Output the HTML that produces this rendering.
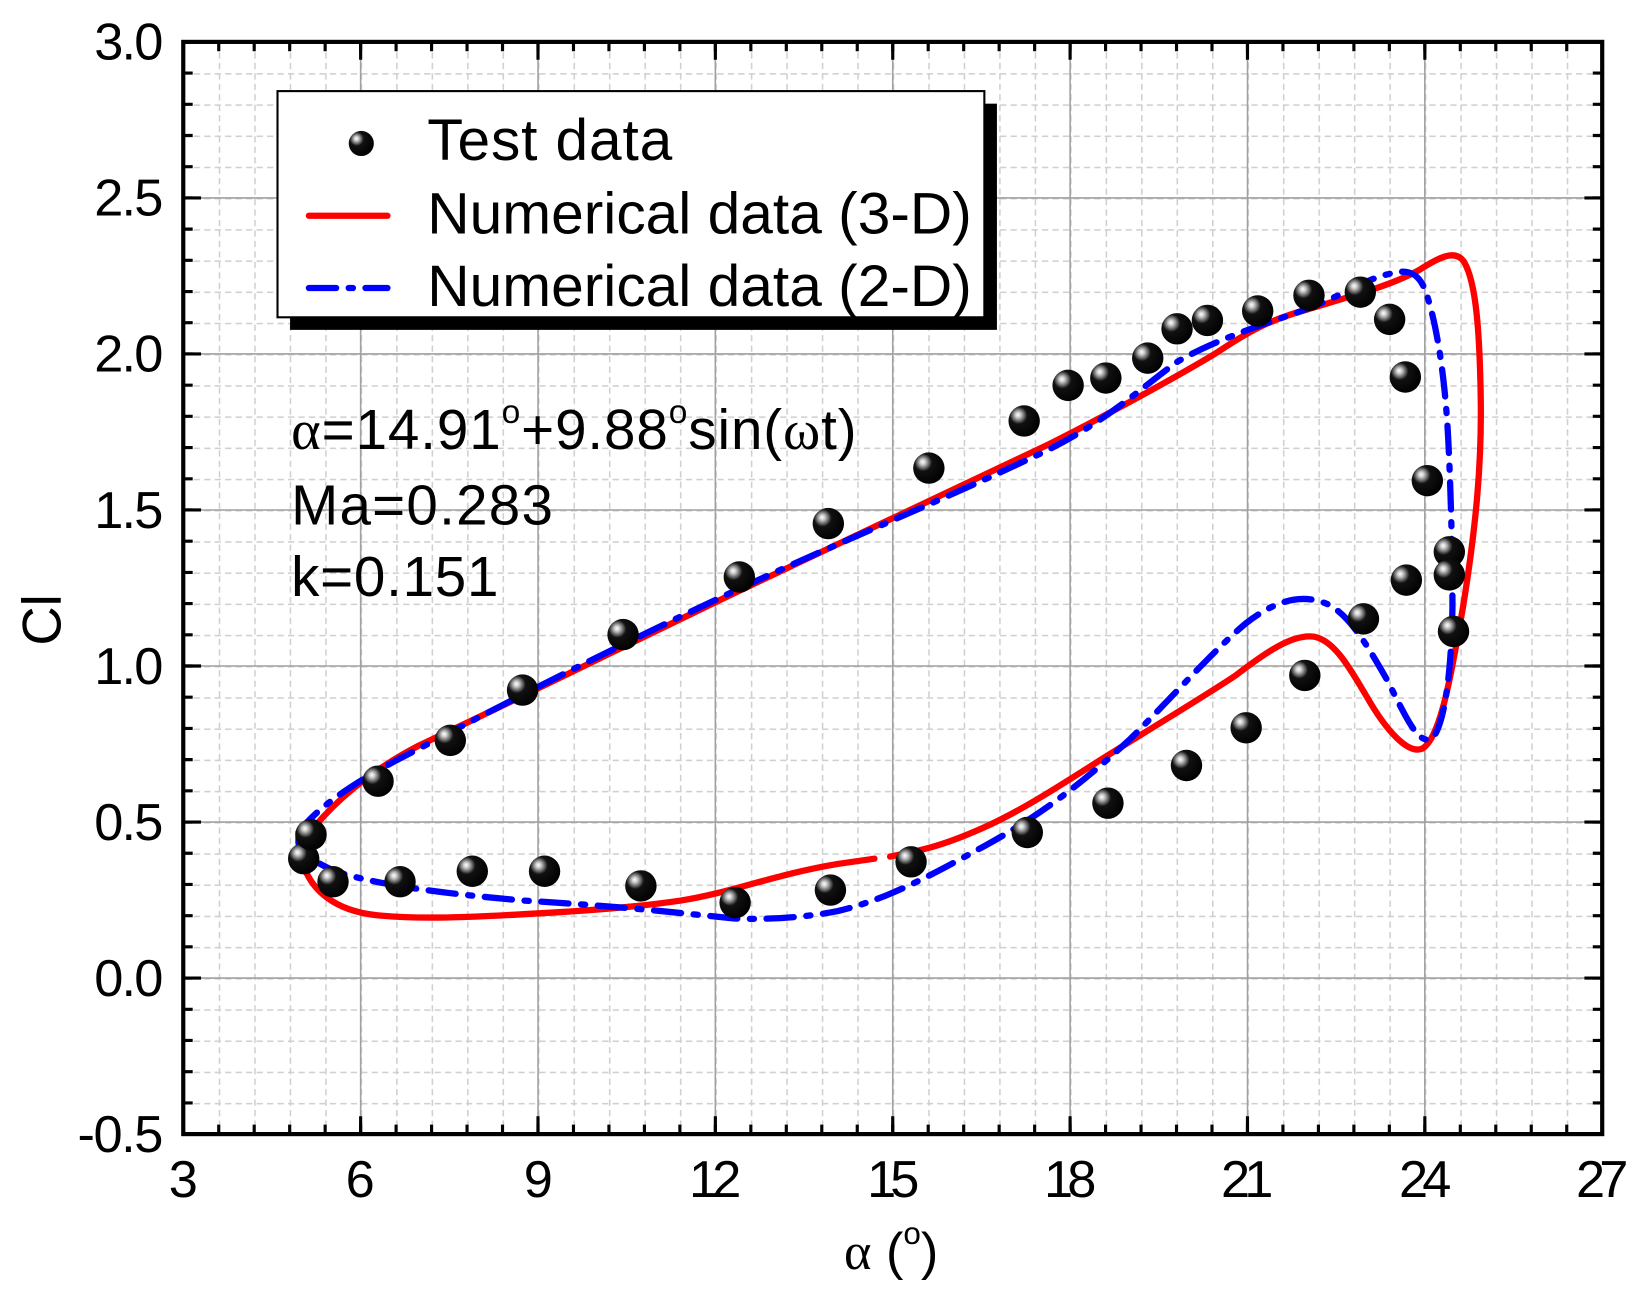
<!DOCTYPE html>
<html><head><meta charset="utf-8"><style>html,body{margin:0;padding:0;background:#fff}svg{display:block}</style></head>
<body>
<svg width="1642" height="1294" viewBox="0 0 1568 1235.7" preserveAspectRatio="none" xmlns="http://www.w3.org/2000/svg" font-family="Liberation Sans, sans-serif">
<defs>
<radialGradient id="b" cx="0.35" cy="0.35" r="0.7" fx="0.3" fy="0.3">
<stop offset="0" stop-color="#fff"/><stop offset="0.12" stop-color="#ccc"/><stop offset="0.25" stop-color="#777"/><stop offset="0.4" stop-color="#111"/><stop offset="1" stop-color="#000"/>
</radialGradient>
<pattern id="gx" patternUnits="userSpaceOnUse" x="175" y="40" width="33.875" height="10">
<line x1="0" y1="0" x2="0" y2="10" stroke="#d0d0d0" stroke-width="3" stroke-dasharray="6,4"/>
</pattern>
<pattern id="gy" patternUnits="userSpaceOnUse" x="175" y="40" width="10" height="29.8">
<line x1="0" y1="0" x2="10" y2="0" stroke="#d0d0d0" stroke-width="3" stroke-dasharray="6,4"/>
</pattern>
</defs>
<rect width="1568" height="1236" fill="#fff"/>
<rect x="175" y="40" width="1355" height="1043" fill="url(#gx)"/>
<rect x="175" y="40" width="1355" height="1043" fill="url(#gy)"/>
<g stroke="#a0a0a0" stroke-width="1.5">
<line x1="344.4" y1="40" x2="344.4" y2="1083"/><line x1="513.8" y1="40" x2="513.8" y2="1083"/><line x1="683.1" y1="40" x2="683.1" y2="1083"/><line x1="852.5" y1="40" x2="852.5" y2="1083"/><line x1="1021.9" y1="40" x2="1021.9" y2="1083"/><line x1="1191.3" y1="40" x2="1191.3" y2="1083"/><line x1="1360.6" y1="40" x2="1360.6" y2="1083"/>
<line x1="175" y1="189" x2="1530" y2="189"/><line x1="175" y1="338" x2="1530" y2="338"/><line x1="175" y1="487" x2="1530" y2="487"/><line x1="175" y1="636" x2="1530" y2="636"/><line x1="175" y1="785" x2="1530" y2="785"/><line x1="175" y1="934" x2="1530" y2="934"/>
</g>
<g stroke="#000" fill="none">
<line x1="173.5" y1="1078.5" x2="1532" y2="1078.5" stroke-width="9" stroke-dasharray="3,30.875"/>
<line x1="173.5" y1="1074.5" x2="1532" y2="1074.5" stroke-width="17" stroke-dasharray="3,166.375"/>
<line x1="173.5" y1="44.5" x2="1532" y2="44.5" stroke-width="9" stroke-dasharray="3,30.875"/>
<line x1="173.5" y1="48.5" x2="1532" y2="48.5" stroke-width="17" stroke-dasharray="3,166.375"/>
<line x1="179.5" y1="38.5" x2="179.5" y2="1085" stroke-width="9" stroke-dasharray="3,26.8"/>
<line x1="183.5" y1="38.5" x2="183.5" y2="1085" stroke-width="17" stroke-dasharray="3,146"/>
<line x1="1525.5" y1="38.5" x2="1525.5" y2="1085" stroke-width="9" stroke-dasharray="3,26.8"/>
<line x1="1521.5" y1="38.5" x2="1521.5" y2="1085" stroke-width="17" stroke-dasharray="3,146"/>
</g>
<rect x="175" y="40" width="1355" height="1043" fill="none" stroke="#000" stroke-width="4"/>
<g font-size="50" text-anchor="end">
<text x="156" y="57" textLength="66">3.0</text><text x="156" y="206" textLength="66">2.5</text><text x="156" y="355" textLength="66">2.0</text><text x="156" y="504" textLength="66">1.5</text><text x="156" y="653" textLength="66">1.0</text><text x="156" y="802" textLength="66">0.5</text><text x="156" y="951" textLength="66">0.0</text><text x="156" y="1100" textLength="82">-0.5</text>
</g>
<g font-size="50" text-anchor="middle">
<text x="175" y="1143">3</text><text x="344" y="1143">6</text><text x="514" y="1143">9</text><text x="683" y="1143" textLength="50">12</text><text x="853" y="1143" textLength="50">15</text><text x="1022" y="1143" textLength="50">18</text><text x="1191" y="1143" textLength="50">21</text><text x="1361" y="1143" textLength="50">24</text><text x="1530" y="1143" textLength="50">27</text>
</g>
<text x="851" y="1212" font-size="50" text-anchor="middle"><tspan font-family="Liberation Serif, serif">α</tspan> (<tspan font-size="30" dy="-24">o</tspan><tspan dy="24">)</tspan></text>
<text transform="translate(58,592) rotate(-90)" font-size="52" text-anchor="middle">Cl</text>

<path d="M835,820 L800,825 C740,835 700,852 650,860 C610,866 560,870 500,873 C450,876 400,878 360,874 C320,870 295,850 288,820 C288,812 290,805 300,790 C318,768 350,738 400,712 C500,665 600,615 700,567 C800,520 900,472 1000,425 C1050,400 1120,362 1160,338 C1190,318 1210,306 1250,295 C1290,283 1330,272 1355,258 C1375,245 1390,238 1398,250 C1410,270 1413,320 1414,380 C1415,440 1410,500 1397,580 C1385,650 1375,705 1358,715 C1345,720 1325,700 1305,665 C1290,640 1275,612 1255,608 C1235,605 1210,622 1180,645 C1150,665 1100,695 1060,720 C1020,745 980,772 940,790 C900,808 880,812 850,818" fill="none" stroke="#ff0000" stroke-width="6" stroke-linejoin="round" stroke-linecap="round"/>

<path d="M285,795 C300,775 330,750 400,715 C500,662 600,612 700,565 C800,518 900,478 1000,430 C1060,400 1090,370 1125,345 C1160,325 1200,312 1240,298 C1280,284 1300,268 1325,262 C1345,256 1355,260 1362,280 C1372,310 1380,360 1383,420 C1386,480 1387,540 1387,580 C1386,640 1380,690 1368,705 C1355,712 1345,690 1325,650 C1305,615 1290,590 1270,578 C1245,566 1220,572 1190,595 C1160,620 1120,665 1080,705 C1040,742 1000,775 940,808 C890,835 850,858 800,870 C760,878 720,878 700,877 C650,872 600,866 500,860 C420,853 360,845 320,832 C300,823 287,815 285,805 Z" fill="none" stroke="#0000ff" stroke-width="6" stroke-dasharray="26,12,4,12" stroke-linecap="round"/>

<g fill="url(#b)">
<circle cx="290" cy="820" r="15"/><circle cx="297" cy="797" r="15"/><circle cx="318" cy="842" r="15"/><circle cx="361" cy="746" r="15"/><circle cx="382" cy="842" r="15"/><circle cx="430" cy="707" r="15"/><circle cx="451" cy="832" r="15"/><circle cx="499" cy="659" r="15"/><circle cx="520" cy="832" r="15"/><circle cx="595" cy="606" r="15"/><circle cx="612" cy="846" r="15"/><circle cx="702" cy="862" r="15"/><circle cx="706" cy="551" r="15"/><circle cx="791" cy="500" r="15"/><circle cx="793" cy="850" r="15"/><circle cx="870" cy="823" r="15"/><circle cx="887" cy="447" r="15"/><circle cx="978" cy="402" r="15"/><circle cx="981" cy="795" r="15"/><circle cx="1020" cy="368" r="15"/><circle cx="1056" cy="361" r="15"/><circle cx="1058" cy="767" r="15"/><circle cx="1096" cy="342" r="15"/><circle cx="1124" cy="314" r="15"/><circle cx="1133" cy="731" r="15"/><circle cx="1153" cy="306" r="15"/><circle cx="1190" cy="695" r="15"/><circle cx="1201" cy="297" r="15"/><circle cx="1246" cy="645" r="15"/><circle cx="1250" cy="282" r="15"/><circle cx="1299" cy="279" r="15"/><circle cx="1302" cy="591" r="15"/><circle cx="1327" cy="305" r="15"/><circle cx="1342" cy="360" r="15"/><circle cx="1343" cy="554" r="15"/><circle cx="1363" cy="459" r="15"/><circle cx="1384" cy="527" r="15"/><circle cx="1384" cy="549" r="15"/><circle cx="1388" cy="603" r="15"/>
</g>

<rect x="277" y="99" width="675" height="216" fill="#000"/>
<rect x="265" y="87" width="675" height="216" fill="#fff" stroke="#000" stroke-width="2"/>
<circle cx="345" cy="137" r="12" fill="url(#b)"/>
<line x1="295" y1="206" x2="370" y2="206" stroke="#ff0000" stroke-width="6" stroke-linecap="round"/>
<line x1="295" y1="275" x2="370" y2="275" stroke="#0000ff" stroke-width="6" stroke-dasharray="26,12,4,12" stroke-linecap="round"/>
<g font-size="56">
<text x="408" y="153" textLength="234">Test data</text>
<text x="408" y="223" textLength="520">Numerical data (3-D)</text>
<text x="408" y="292" textLength="520">Numerical data (2-D)</text>
</g>
<g font-size="54">
<text x="278" y="429" textLength="540"><tspan font-family="Liberation Serif, serif">α</tspan>=14.91<tspan font-size="32" dy="-25">o</tspan><tspan dy="25">+9.88</tspan><tspan font-size="32" dy="-25">o</tspan><tspan dy="25">sin(</tspan><tspan font-family="Liberation Serif, serif">ω</tspan>t)</text>
<text x="278" y="501" textLength="250">Ma=0.283</text>
<text x="278" y="569" textLength="198">k=0.151</text>
</g>
</svg>
</body></html>
